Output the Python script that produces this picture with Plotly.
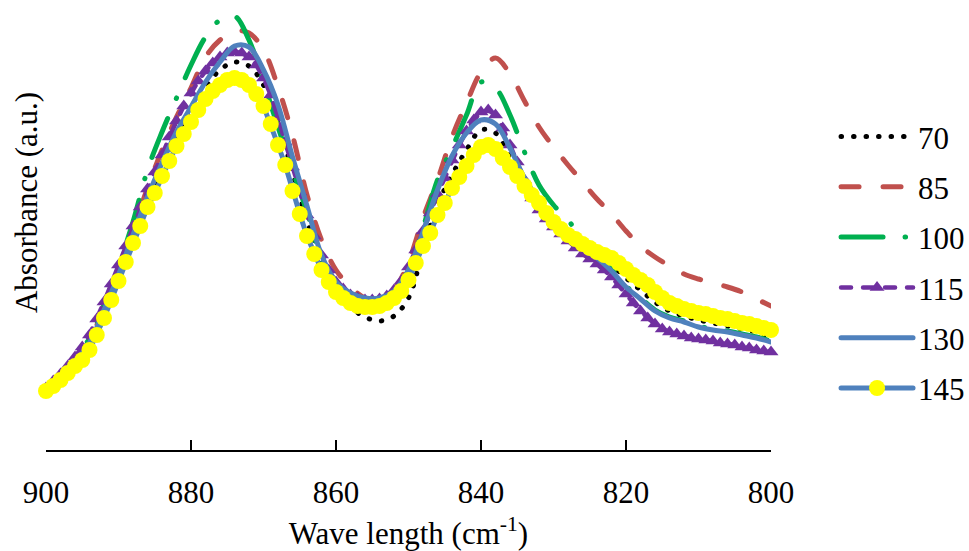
import plotly.graph_objects as go

# Wavenumber grids (cm^-1)
wn_fine = list(range(900, 799, -1))      # 1 cm^-1 step (marker series)
wn_coarse = list(range(900, 799, -2))    # 2 cm^-1 step (line series)

# Absorbance (a.u.)
abs_70 = [60, 71, 87, 105, 137, 173, 212, 250, 283, 313,
          340, 363, 380, 388, 384, 365, 328, 278, 230, 188,
          160, 143, 133, 129, 134, 152, 200, 245, 275, 300,
          320, 317, 293, 268, 249, 230, 216, 204, 195, 185,
          172, 160, 148, 139, 134, 130, 127, 124, 121, 118,
          113]

abs_85 = [60, 72, 89, 110, 142, 180, 220, 262, 300, 333,
          362, 393, 410, 419, 417, 400, 363, 315, 255, 210,
          180, 163, 152, 150, 160, 188, 232, 270, 313, 347,
          378, 392, 376, 349, 323, 303, 285, 268, 251, 236,
          219, 204, 193, 184, 176, 171, 167, 163, 158, 151,
          144]

abs_100 = [60, 72, 90, 112, 145, 184, 228, 280, 318, 352,
           385, 413, 430, 434, 410, 368, 323, 280, 238, 192,
           165, 152, 147, 148, 157, 180, 222, 270, 302, 335,
           368, 362, 335, 298, 265, 245, 230, 210, 196, 181,
           164, 152, 140, 133, 129, 124, 121, 119, 116, 113,
           109]

abs_115 = [62, 69, 76, 84, 93, 103, 115, 131, 148, 166,
           185, 204, 224, 243, 261, 278, 295, 313, 329, 344,
           357, 369, 379, 387, 393, 397, 398, 397, 393, 385,
           372, 355, 332, 308, 283, 258, 235, 214, 195, 180,
           168, 161, 155, 152, 150, 150, 151, 154, 160, 169,
           183, 200, 219, 237, 256, 272, 290, 305, 319, 330,
           338, 340, 335, 322, 305, 288, 270, 252, 240, 231,
           223, 216, 209, 202, 196, 191, 186, 180, 173, 165,
           156, 147, 139, 132, 126, 121, 118, 116, 114, 112,
           111, 110, 109, 107, 106, 105, 103, 102, 100, 99,
           98]

abs_130 = [60, 71, 88, 107, 140, 175, 215, 253, 287, 318,
           343, 368, 388, 404, 403, 380, 345, 293, 244, 195,
           168, 157, 152, 152, 159, 180, 218, 260, 294, 317,
           330, 326, 302, 272, 250, 232, 216, 201, 192, 179,
           163, 151, 139, 132, 128, 123, 120, 118, 115, 112,
           108]

abs_145 = [59, 64, 70, 77, 84, 90, 100, 115, 132, 150,
           169, 188, 207, 224, 243, 257, 274, 289, 304, 316,
           328, 340, 351, 359, 365, 370, 372, 370, 365, 356,
           344, 326, 305, 285, 259, 236, 214, 196, 180, 168,
           158, 152, 147, 144, 143, 143, 144, 147, 152, 159,
           170, 187, 204, 217, 235, 247, 262, 273, 284, 295,
           303, 305, 301, 292, 283, 274, 264, 255, 247, 237,
           228, 221, 215, 211, 206, 202, 198, 195, 192, 187,
           181, 175, 170, 165, 158, 152, 147, 144, 141, 139,
           137, 136, 134, 132, 131, 129, 127, 126, 124, 122,
           120]

x_ticks = [900, 880, 860, 840, 820, 800]

FONT = "Liberation Serif, Times New Roman, DejaVu Serif, serif"
BLUE = "#4F81BD"

fig = go.Figure()

def add(name, x, y, **kw):
    fig.add_trace(go.Scatter(x=x, y=y, name=name, legendgroup=name,
                             cliponaxis=False, **kw))

add("70", wn_coarse, abs_70, mode="lines", line_shape="spline",
    line=dict(color="black", width=5, dash="0.5px,12px"))
add("85", wn_coarse, abs_85, mode="lines", line_shape="spline",
    line=dict(color="#C0504D", width=5, dash="18px,24px"))
add("100", wn_coarse, abs_100, mode="lines", line_shape="spline",
    line=dict(color="#00B050", width=5, dash="42px,22px,0.5px,22px"))
add("115", wn_fine, abs_115, mode="lines+markers",
    line=dict(color="#7030A0", width=4.5, dash="10px,12px"),
    marker=dict(symbol="triangle-up", size=13, color="#7030A0"))
add("130", wn_coarse, abs_130, mode="lines", line_shape="spline",
    line=dict(color=BLUE, width=5))
add("145", wn_fine, abs_145, mode="lines+markers",
    line=dict(color=BLUE, width=5),
    marker=dict(symbol="circle", size=16, color="#FFFF00"))

fig.update_layout(
    width=969, height=551,
    margin=dict(l=46, r=198, t=0, b=101),
    paper_bgcolor="white", plot_bgcolor="white",
    font=dict(family=FONT, size=31, color="black"),
    showlegend=True,
    legend=dict(xref="container", yref="container",
                x=0.8628, y=0.8006, xanchor="left", yanchor="top",
                maxheight=1,
                font=dict(family=FONT, size=31, color="black"),
                itemwidth=72, tracegroupgap=7,
                bgcolor="rgba(0,0,0,0)"),
    xaxis=dict(range=[900, 800], tickvals=x_ticks,
               ticktext=[str(v) for v in x_ticks],
               showgrid=False, zeroline=False,
               showline=True, linecolor="black", linewidth=1.5,
               ticks="inside", ticklen=10, tickwidth=1.5, tickcolor="black",
               ticklabelstandoff=14,
               tickfont=dict(family=FONT, size=31, color="black"),
               title=dict(text="Wave length (cm<sup>-1</sup>)",
                          font=dict(family=FONT, size=31, color="black"),
                          standoff=14)),
    yaxis=dict(range=[0, 450], visible=False),
    annotations=[dict(text="Absorbance (a.u.)", textangle=-90,
                      xref="paper", yref="paper", x=-0.0276, y=0.551,
                      xanchor="center", yanchor="middle", showarrow=False,
                      font=dict(family=FONT, size=31, color="black"))],
)

js = """
var st = document.createElement('style');
st.textContent = 'html,body{margin:0;padding:0;overflow:hidden;} .js-line{stroke-linecap:round;stroke-linejoin:round;}';
document.head.appendChild(st);
"""
fig.write_html("out.html", post_script=js, config={"displayModeBar": False})
